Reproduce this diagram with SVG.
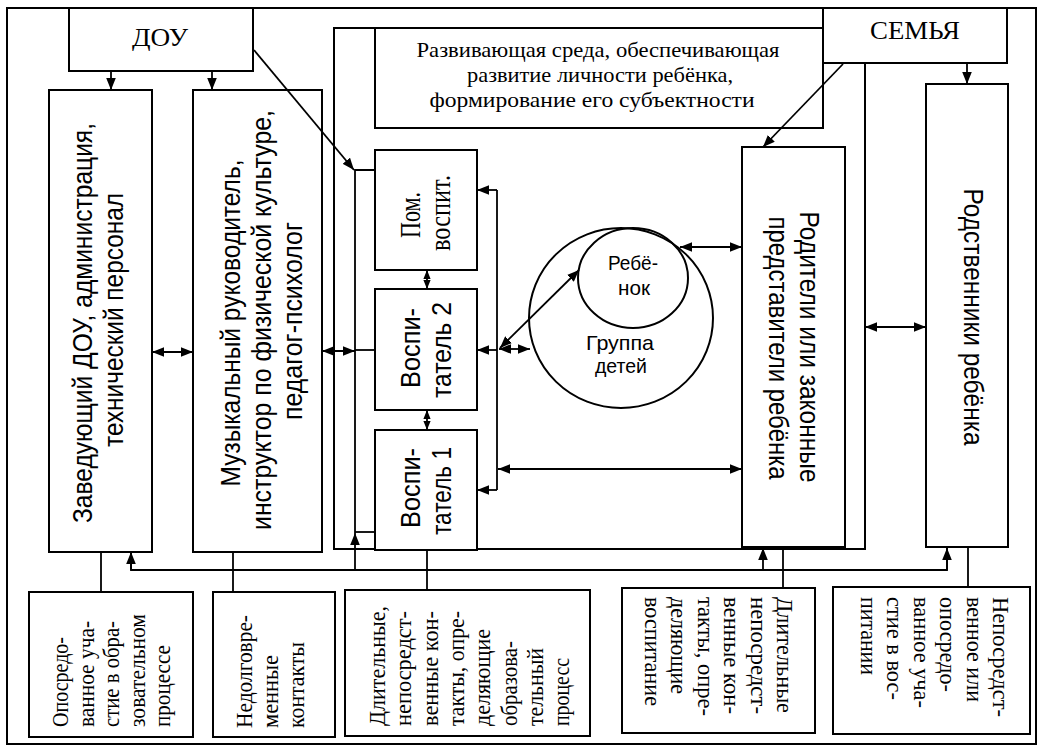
<svg xmlns="http://www.w3.org/2000/svg" width="1042" height="749" viewBox="0 0 1042 749">
<defs>
<marker id="ah" viewBox="0 0 10 8" refX="10" refY="4" markerWidth="12" markerHeight="10" markerUnits="userSpaceOnUse" orient="auto-start-reverse"><path d="M0,0 L10,4 L0,8 z" fill="#000"/></marker>
<marker id="as" viewBox="0 0 10 8" refX="10" refY="4" markerWidth="9" markerHeight="9" markerUnits="userSpaceOnUse" orient="auto-start-reverse"><path d="M0,0 L10,4 L0,8 z" fill="#000"/></marker>
<style>
.box{fill:#fff;stroke:#000;stroke-width:2}
.frame{fill:none;stroke:#000;stroke-width:2}
.ln{fill:none;stroke:#000;stroke-width:1.8}
.a1{marker-end:url(#ah)}
.a2{marker-start:url(#ah);marker-end:url(#ah)}
.s2{marker-start:url(#as);marker-end:url(#as)}
.serif{font-family:"Liberation Serif","Times New Roman",serif;fill:#000}
.sans{font-family:"Liberation Sans",Arial,sans-serif;fill:#000}
.big{font-size:28px}
.mid{font-size:22px}
.sm{font-size:23px}
</style>
</defs>
<rect width="1042" height="749" fill="#fff"/>
<rect class="frame" x="7" y="8" width="1029" height="736"/>

<g id="sreda-area">
<path class="frame" d="M823 28 H334 V549 H865 V63"/>
</g>

<g id="sreda">
<rect class="box" x="375" y="28" width="448" height="100"/>
<text class="serif mid" x="598" y="57" text-anchor="middle" textLength="363" lengthAdjust="spacingAndGlyphs">Развивающая среда, обеспечивающая</text>
<text class="serif mid" x="600" y="82" text-anchor="middle" textLength="266" lengthAdjust="spacingAndGlyphs">развитие личности ребёнка,</text>
<text class="serif mid" x="592" y="107" text-anchor="middle" textLength="325" lengthAdjust="spacingAndGlyphs">формирование его субъектности</text>
</g>

<g id="dou">
<rect class="box" x="69" y="8" width="184" height="63"/>
<text class="serif" font-size="26" x="160" y="46" text-anchor="middle" textLength="56" lengthAdjust="spacingAndGlyphs">ДОУ</text>
</g>

<g id="semya">
<rect class="box" x="823" y="8" width="184" height="55"/>
<text class="serif" font-size="26" x="915" y="39" text-anchor="middle" textLength="90" lengthAdjust="spacingAndGlyphs">СЕМЬЯ</text>
</g>

<g id="zaved">
<rect class="box" x="49" y="90" width="103" height="462"/>
<text class="sans big" transform="translate(92,323) rotate(-90)" text-anchor="middle" textLength="400" lengthAdjust="spacingAndGlyphs">Заведующий ДОУ, администрация,</text>
<text class="sans big" transform="translate(123,320) rotate(-90)" text-anchor="middle" textLength="254" lengthAdjust="spacingAndGlyphs">технический персонал</text>
</g>

<g id="specialists">
<rect class="box" x="193" y="90" width="129" height="462"/>
<text class="sans big" transform="translate(240,323) rotate(-90)" text-anchor="middle" textLength="327" lengthAdjust="spacingAndGlyphs">Музыкальный руководитель,</text>
<text class="sans big" transform="translate(271,320) rotate(-90)" text-anchor="middle" textLength="420" lengthAdjust="spacingAndGlyphs">инструктор по физической культуре,</text>
<text class="sans big" transform="translate(302,321) rotate(-90)" text-anchor="middle" textLength="198" lengthAdjust="spacingAndGlyphs">педагог-психолог</text>
</g>

<g id="pom">
<rect class="box" x="375" y="150" width="102" height="120"/>
<text class="serif" font-size="30" transform="translate(420,215) rotate(-90)" text-anchor="middle" textLength="46" lengthAdjust="spacingAndGlyphs">Пом.</text>
<text class="serif" font-size="30" transform="translate(450,213) rotate(-90)" text-anchor="middle" textLength="76" lengthAdjust="spacingAndGlyphs">воспит.</text>
</g>

<g id="vosp2">
<rect class="box" x="375" y="289" width="102" height="121"/>
<text class="sans big" transform="translate(420,348) rotate(-90)" text-anchor="middle" textLength="80" lengthAdjust="spacingAndGlyphs">Воспи-</text>
<text class="sans big" transform="translate(451,350) rotate(-90)" text-anchor="middle" textLength="96" lengthAdjust="spacingAndGlyphs">татель 2</text>
</g>

<g id="vosp1">
<rect class="box" x="375" y="430" width="102" height="120"/>
<text class="sans big" transform="translate(420,488) rotate(-90)" text-anchor="middle" textLength="80" lengthAdjust="spacingAndGlyphs">Воспи-</text>
<text class="sans big" transform="translate(451,491) rotate(-90)" text-anchor="middle" textLength="88" lengthAdjust="spacingAndGlyphs">татель 1</text>
</g>

<g id="group">
<ellipse cx="621" cy="318" rx="92" ry="90" fill="none" stroke="#000" stroke-width="2"/>
<text class="sans" font-size="21" x="620" y="350" text-anchor="middle" textLength="68" lengthAdjust="spacingAndGlyphs">Группа</text>
<text class="sans" font-size="21" x="621" y="373" text-anchor="middle" textLength="52" lengthAdjust="spacingAndGlyphs">детей</text>
</g>

<g id="child">
<ellipse cx="633" cy="278" rx="55" ry="50" fill="none" stroke="#000" stroke-width="2"/>
<text class="sans" font-size="20" x="633" y="270" text-anchor="middle" textLength="50" lengthAdjust="spacingAndGlyphs">Ребё-</text>
<text class="sans" font-size="20" x="634" y="295" text-anchor="middle" textLength="32" lengthAdjust="spacingAndGlyphs">нок</text>
</g>

<g id="parents">
<rect class="box" x="742" y="147" width="103" height="400"/>
<text class="sans big" transform="translate(800,347) rotate(90)" text-anchor="middle" textLength="271" lengthAdjust="spacingAndGlyphs">Родители или законные</text>
<text class="sans big" transform="translate(769,348) rotate(90)" text-anchor="middle" textLength="263" lengthAdjust="spacingAndGlyphs">представители ребёнка</text>
</g>

<g id="relatives">
<rect class="box" x="926" y="84" width="82" height="463"/>
<text class="sans big" transform="translate(964,317) rotate(90)" text-anchor="middle" textLength="257" lengthAdjust="spacingAndGlyphs">Родственники ребёнка</text>
</g>

<g id="note-a">
<rect class="box" x="29" y="592" width="164" height="145"/>
<g class="serif sm">
<text transform="translate(68,727) rotate(-90)" textLength="90" lengthAdjust="spacingAndGlyphs">Опосредо-</text>
<text transform="translate(93.5,727) rotate(-90)" textLength="106" lengthAdjust="spacingAndGlyphs">ванное уча-</text>
<text transform="translate(119,727) rotate(-90)" textLength="106" lengthAdjust="spacingAndGlyphs">стие в обра-</text>
<text transform="translate(144.5,727) rotate(-90)" textLength="113" lengthAdjust="spacingAndGlyphs">зовательном</text>
<text transform="translate(170,727) rotate(-90)" textLength="82" lengthAdjust="spacingAndGlyphs">процессе</text>
</g>
</g>

<g id="note-b">
<rect class="box" x="213" y="592" width="122" height="145"/>
<g class="serif sm">
<text transform="translate(252,728) rotate(-90)" textLength="113" lengthAdjust="spacingAndGlyphs">Недолговре-</text>
<text transform="translate(278,728) rotate(-90)" textLength="73" lengthAdjust="spacingAndGlyphs">менные</text>
<text transform="translate(304,728) rotate(-90)" textLength="86" lengthAdjust="spacingAndGlyphs">контакты</text>
</g>
</g>

<g id="note-c">
<rect class="box" x="345" y="590" width="245" height="146"/>
<g class="serif sm">
<text transform="translate(385,726) rotate(-90)" textLength="120" lengthAdjust="spacingAndGlyphs">Длительные,</text>
<text transform="translate(411,726) rotate(-90)" textLength="115" lengthAdjust="spacingAndGlyphs">непосредст-</text>
<text transform="translate(438,726) rotate(-90)" textLength="115" lengthAdjust="spacingAndGlyphs">венные кон-</text>
<text transform="translate(464,726) rotate(-90)" textLength="115" lengthAdjust="spacingAndGlyphs">такты, опре-</text>
<text transform="translate(490,726) rotate(-90)" textLength="97" lengthAdjust="spacingAndGlyphs">деляющие</text>
<text transform="translate(517,726) rotate(-90)" textLength="85" lengthAdjust="spacingAndGlyphs">образова-</text>
<text transform="translate(543,726) rotate(-90)" textLength="78" lengthAdjust="spacingAndGlyphs">тельный</text>
<text transform="translate(569,726) rotate(-90)" textLength="68" lengthAdjust="spacingAndGlyphs">процесс</text>
</g>
</g>

<g id="note-d">
<rect class="box" x="622" y="588" width="193" height="145"/>
<g class="serif sm">
<text transform="translate(777,597) rotate(90)" textLength="116" lengthAdjust="spacingAndGlyphs">Длительные</text>
<text transform="translate(750.5,597) rotate(90)" textLength="117" lengthAdjust="spacingAndGlyphs">непосредст-</text>
<text transform="translate(724,597) rotate(90)" textLength="117" lengthAdjust="spacingAndGlyphs">венные кон-</text>
<text transform="translate(697.5,597) rotate(90)" textLength="119" lengthAdjust="spacingAndGlyphs">такты, опре-</text>
<text transform="translate(671,597) rotate(90)" textLength="97" lengthAdjust="spacingAndGlyphs">деляющие</text>
<text transform="translate(644.5,597) rotate(90)" textLength="109" lengthAdjust="spacingAndGlyphs">воспитание</text>
</g>
</g>

<g id="note-e">
<rect class="box" x="833" y="587" width="197" height="147"/>
<g class="serif sm">
<text transform="translate(993,597) rotate(90)" textLength="120" lengthAdjust="spacingAndGlyphs">Непосредст-</text>
<text transform="translate(966.5,597) rotate(90)" textLength="105" lengthAdjust="spacingAndGlyphs">венное или</text>
<text transform="translate(940,597) rotate(90)" textLength="95" lengthAdjust="spacingAndGlyphs">опосредо-</text>
<text transform="translate(913.5,597) rotate(90)" textLength="111" lengthAdjust="spacingAndGlyphs">ванное уча-</text>
<text transform="translate(887,597) rotate(90)" textLength="103" lengthAdjust="spacingAndGlyphs">стие в вос-</text>
<text transform="translate(860.5,597) rotate(90)" textLength="78" lengthAdjust="spacingAndGlyphs">питании</text>
</g>
</g>

<g id="connectors">
<line class="ln a1" x1="111" y1="71" x2="111" y2="90"/>
<line class="ln a1" x1="212" y1="71" x2="212" y2="90"/>
<line class="ln a1" x1="254" y1="50" x2="354" y2="170"/>
<line class="ln a1" x1="843" y1="64" x2="763" y2="147"/>
<line class="ln a1" x1="967" y1="63" x2="967" y2="84"/>
<line class="ln a2" x1="152" y1="352" x2="193" y2="352"/>
<line class="ln a2" x1="322" y1="351" x2="355" y2="351"/>
<polyline class="ln" points="355,533 355,170 375,170"/>
<line class="ln" x1="355" y1="350" x2="375" y2="350"/>
<line class="ln" x1="355" y1="532" x2="375" y2="532"/>
<line class="ln s2" x1="427" y1="270" x2="427" y2="289"/>
<line class="ln s2" x1="427" y1="410" x2="427" y2="430"/>
<line class="ln" x1="497" y1="190" x2="497" y2="490"/>
<line class="ln a1" x1="497" y1="190" x2="477" y2="190"/>
<line class="ln a1" x1="497" y1="350" x2="477" y2="350"/>
<line class="ln a1" x1="497" y1="490" x2="477" y2="490"/>
<line class="ln a2" x1="499" y1="349" x2="530" y2="349"/>
<line class="ln a2" x1="500" y1="348" x2="579" y2="270"/>
<line class="ln a2" x1="680" y1="247" x2="742" y2="247"/>
<line class="ln a2" x1="498" y1="469" x2="742" y2="469"/>
<line class="ln a2" x1="865" y1="327" x2="926" y2="327"/>
<polyline class="ln" points="131,552 131,570 947,570 947,548"/>
<line class="ln a1" x1="131" y1="570" x2="131" y2="552"/>
<line class="ln a1" x1="355" y1="570" x2="355" y2="533"/>
<line class="ln a1" x1="763" y1="570" x2="763" y2="548"/>
<line class="ln a1" x1="947" y1="570" x2="947" y2="548"/>
<line class="ln" x1="101" y1="552" x2="101" y2="592"/>
<line class="ln" x1="233" y1="552" x2="233" y2="592"/>
<line class="ln" x1="427" y1="550" x2="427" y2="590"/>
<line class="ln" x1="783" y1="547" x2="783" y2="588"/>
<line class="ln" x1="968" y1="547" x2="968" y2="587"/>
</g>
</svg>
